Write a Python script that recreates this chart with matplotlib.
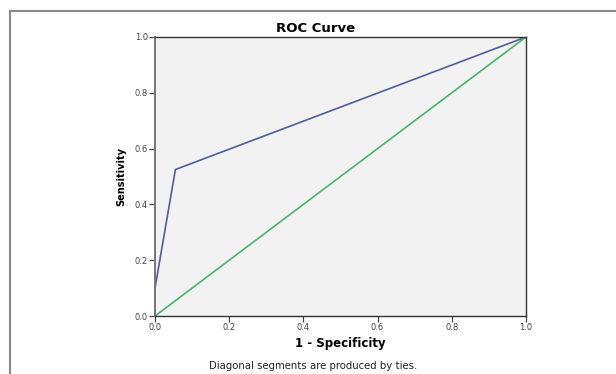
import matplotlib
matplotlib.use("Agg")
import matplotlib.pyplot as plt
from matplotlib.lines import Line2D

# ROC curve points
fpr = [0.0, 0.0, 0.055, 1.0]
tpr = [0.0, 0.1, 0.525, 1.0]
ref_line = [0.0, 1.0]
ticks = [0.0, 0.2, 0.4, 0.6, 0.8, 1.0]

# the source text looks wide, DejaVu is the closest wide sans
plt.rcParams['font.family'] = ['DejaVu Sans']

fig = plt.figure(figsize=(6.16, 3.74), dpi=100)
fig.patch.set_facecolor('white')

# frame of the output panel: only top and left edges are visible
fig.lines.append(Line2D([10 / 616, 1.0], [363 / 374, 363 / 374],
                        transform=fig.transFigure, color='#8a8a8a', linewidth=1.5))
fig.lines.append(Line2D([10 / 616, 10 / 616], [0.0, 363 / 374],
                        transform=fig.transFigure, color='#8a8a8a', linewidth=1.5))

ax = fig.add_axes([155 / 616, 58 / 374, 371 / 616, 279 / 374])
ax.set_facecolor('#f2f2f2')

ax.plot(fpr, tpr, color='#4f5d9c', linewidth=1.2)
ax.plot(ref_line, ref_line, color='#4bb36a', linewidth=1.2)

ax.set_xlim(0, 1)
ax.set_ylim(0, 1)
ax.set_xticks(ticks)
ax.set_yticks(ticks)
ax.set_xticklabels(['%.1f' % t for t in ticks])
ax.set_yticklabels(['%.1f' % t for t in ticks])
ax.tick_params(direction='out', length=4, width=0.9, labelsize=6,
               pad=1, colors='#444444')
for s in ax.spines.values():
    s.set_color('#333333')
    s.set_linewidth(1.0)
ax.spines['left'].set_color('#777777')
ax.spines['left'].set_linewidth(1.4)

# title is centred on the panel, not on the plot area
fig.text(316 / 616, 1 - 28 / 374, 'ROC Curve', ha='center', va='center',
         fontsize=9.5, fontweight='bold')
ax.set_xlabel('1 - Specificity', fontsize=8.5, fontweight='bold', labelpad=4)
ax.set_ylabel('Sensitivity', fontsize=7, fontweight='bold', labelpad=6)

fig.text(313 / 616, 8 / 374, 'Diagonal segments are produced by ties.',
         ha='center', va='center', fontsize=7.3, color='#222222')

fig.savefig('out.png', dpi=100)
